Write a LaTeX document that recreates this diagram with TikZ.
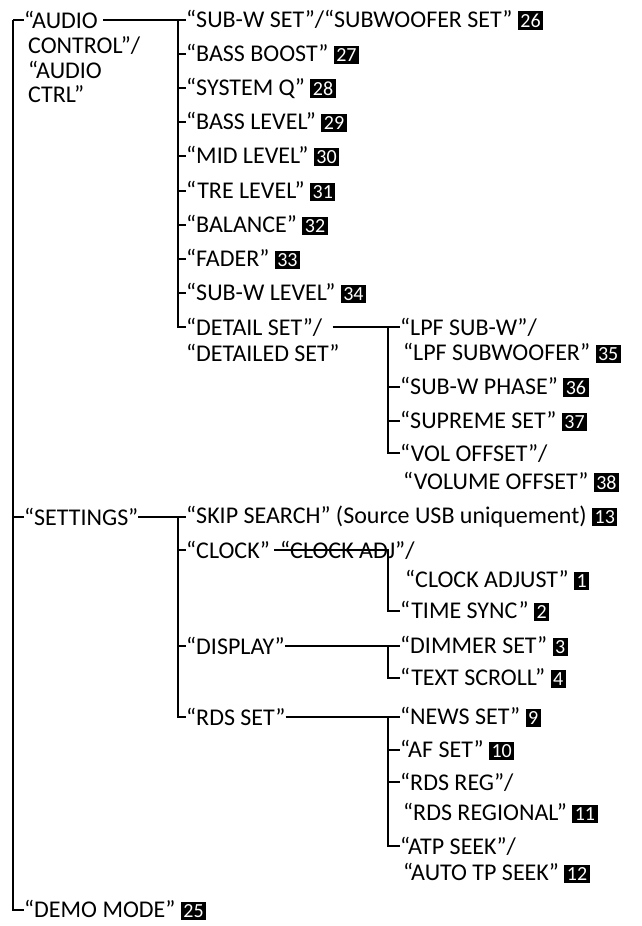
\documentclass[tikz,border=0pt]{standalone}
\usepackage{fontspec}
\setmainfont{Carlito}
\newcommand{\bdg}[1]{{\setlength{\fboxsep}{2.5pt}\colorbox{black}{\textcolor{white}{\fontsize{20}{20}\selectfont #1}}}}
\begin{document}
\begin{tikzpicture}[x=1pt,y=-1pt,
  it/.style={anchor=west,inner sep=0pt,font=\fontsize{24}{24}\selectfont},
  ln/.style={line width=1.5pt}]
\useasboundingbox (0,0) rectangle (642,926);
% root
\node[it] (audio) at (24,20) {“AUDIO};
\node[it] (audio2) at (28,46) {CONTROL”/};
\node[it] (audio3) at (28,70) {“AUDIO};
\node[it] (audio4) at (28,94) {CTRL”};
\node[it] (settings) at (24,517) {“SETTINGS”};
\node[it] (demo) at (24,910) {“DEMO MODE” \bdg{25}};
\draw[ln] (13,20) -- (13,910) -- (demo.west);
\draw[ln] (13,20) -- (audio.west);
\draw[ln] (13,517) -- (settings.west);
% audio
\node[it] (a1) at (186,20) {“SUB-W SET”/“SUBWOOFER SET” \bdg{26}};
\node[it] (a2) at (186,54) {“BASS BOOST” \bdg{27}};
\node[it] (a3) at (186,88) {“SYSTEM Q” \bdg{28}};
\node[it] (a4) at (186,122) {“BASS LEVEL” \bdg{29}};
\node[it] (a5) at (186,156) {“MID LEVEL” \bdg{30}};
\node[it] (a6) at (186,191) {“TRE LEVEL” \bdg{31}};
\node[it] (a7) at (186,225) {“BALANCE” \bdg{32}};
\node[it] (a8) at (186,259) {“FADER” \bdg{33}};
\node[it] (a9) at (186,293) {“SUB-W LEVEL” \bdg{34}};
\node[it] (a10) at (186,327) {“DETAIL SET”/};
\node[it] (a10b) at (186,353) {“DETAILED SET”};
\draw[ln] ([xshift=5pt]audio.east) -- (178,20) -- (a1.west);
\draw[ln] (178,20) -- (178,327) -- (a10.west);
\foreach \n in {a2,a3,a4,a5,a6,a7,a8,a9} \draw[ln] (178,0 |- \n.west) -- (\n.west);
% detail
\node[it] (d1) at (400,327) {“LPF SUB-W”/};
\node[it] (d1b) at (403,353) {“LPF SUBWOOFER” \bdg{35}};
\node[it] (d2) at (400,387) {“SUB-W PHASE” \bdg{36}};
\node[it] (d3) at (400,421) {“SUPREME SET” \bdg{37}};
\node[it] (d4) at (400,453) {“VOL OFFSET”/};
\node[it] (d4b) at (403,482) {“VOLUME OFFSET” \bdg{38}};
\draw[ln] ([xshift=10pt]a10.east) -- (388,327) -- (d1.west);
\draw[ln] (388,327) -- (388,453) -- (d4.west);
\draw[ln] (388,387) -- (d2.west);
\draw[ln] (388,421) -- (d3.west);
% settings
\node[it] (s1) at (186,517) {“SKIP SEARCH” (Source USB uniquement) \bdg{13}};
\node[it] (s2) at (186,550) {“CLOCK”};
\node[it,anchor=west] (s2x) at ([xshift=10pt]s2.east) {“CLOCK ADJ”/};
\node[it] (s3) at (186,646) {“DISPLAY”};
\node[it] (s4) at (186,717) {“RDS SET”};
\draw[ln] (settings.east) -- (178,517) -- (s1.west);
\draw[ln] (178,517) -- (178,717) -- (s4.west);
\draw[ln] (178,550) -- (s2.west);
\draw[ln] (178,646) -- (s3.west);
% clock
\node[it] (c1) at (405,580) {“CLOCK ADJUST” \bdg{1}};
\node[it] (c2) at (400,611) {“TIME SYNC” \bdg{2}};
\draw[ln] ([xshift=4pt]s2.east) -- (388,550) -- (388,611) -- (c2.west);
% display
\node[it] (p1) at (400,646) {“DIMMER SET” \bdg{3}};
\node[it] (p2) at (400,678) {“TEXT SCROLL” \bdg{4}};
\draw[ln] (s3.east) -- (388,646) -- (p1.west);
\draw[ln] (388,646) -- (388,678) -- (p2.west);
% rds
\node[it] (r1) at (400,717) {“NEWS SET” \bdg{9}};
\node[it] (r2) at (400,750) {“AF SET” \bdg{10}};
\node[it] (r3) at (400,782) {“RDS REG”/};
\node[it] (r3b) at (403,813) {“RDS REGIONAL” \bdg{11}};
\node[it] (r4) at (400,846) {“ATP SEEK”/};
\node[it] (r4b) at (403,873) {“AUTO TP SEEK” \bdg{12}};
\draw[ln] (s4.east) -- (388,717) -- (r1.west);
\draw[ln] (388,717) -- (388,846) -- (r4.west);
\draw[ln] (388,750) -- (r2.west);
\draw[ln] (388,782) -- (r3.west);
\end{tikzpicture}
\end{document}
